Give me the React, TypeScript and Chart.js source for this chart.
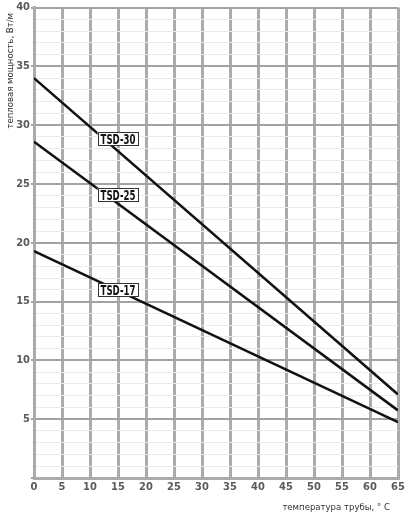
import React, { useEffect, useRef } from 'react';
import { Chart, registerables } from 'chart.js';

Chart.register(...registerables);

const temperatures = [0, 65];
const tsd30 = [34.0, 7.1];
const tsd25 = [28.6, 5.75];
const tsd17 = [19.3, 4.75];
const seriesNames = ['TSD-30', 'TSD-25', 'TSD-17'];
const labelAtX = 15;
const labelAtY = [28.8, 24.1, 16.0];
const yTitle = 'тепловая мощность, Вт/м';
const xTitle = 'температура трубы, ° С';

const COND = '"DejaVu Sans Condensed", "Liberation Sans Narrow", sans-serif';
const PAD = '\u00A0\u00A0\u00A0';

const toPoints = (ys: number[]) => temperatures.map((x, i) => ({ x, y: ys[i] }));

const labelPlugin = {
  id: 'seriesLabels',
  afterDatasetsDraw(chart: any) {
    const { ctx, scales } = chart;
    seriesNames.forEach((name, i) => {
      const px = Math.round(scales.x.getPixelForValue(labelAtX));
      const py = Math.round(scales.y.getPixelForValue(labelAtY[i]));
      const w = 41;
      const h = 14;
      ctx.save();
      ctx.fillStyle = '#ffffff';
      ctx.fillRect(px - w / 2, py - h / 2, w, h);
      ctx.strokeStyle = '#333333';
      ctx.lineWidth = 1;
      ctx.strokeRect(Math.round(px - w / 2) + 0.5, py - h / 2 + 0.5, w - 1, h - 1);
      ctx.font = `bold 13.5px ${COND}`;
      const tw = ctx.measureText(name).width;
      const target = 35;
      const sx = Math.min(1, target / tw);
      ctx.translate(px, py + 1);
      ctx.scale(sx, 1);
      ctx.fillStyle = '#111111';
      ctx.textAlign = 'center';
      ctx.textBaseline = 'middle';
      ctx.fillText(name, 0, 0);
      ctx.restore();
    });
  },
};

export default function App() {
  const ref = useRef<HTMLCanvasElement>(null);
  useEffect(() => {
    if (!ref.current) return;
    const mk = (label: string, ys: number[]) => ({
      label,
      data: toPoints(ys),
      borderColor: '#111111',
      borderWidth: 2.5,
      pointRadius: 0,
      fill: false,
    });
    const chart = new Chart(ref.current, {
      type: 'line',
      data: {
        datasets: [mk(seriesNames[0], tsd30), mk(seriesNames[1], tsd25), mk(seriesNames[2], tsd17)],
      },
      options: {
        animation: false,
        responsive: false,
        maintainAspectRatio: false,
        layout: { padding: { top: 6, right: 11, left: 0, bottom: 0 } },
        plugins: { legend: { display: false }, tooltip: { enabled: false } },
        scales: {
          x: {
            type: 'linear',
            min: 0,
            max: 65,
            ticks: {
              stepSize: 5,
              color: '#5a5a5a',
              font: { family: COND, size: 11, weight: 'bold' },
              padding: 3,
            },
            grid: { color: '#ababab', lineWidth: 3, tickLength: 0 },
            border: { color: '#ababab', width: 3 },
            title: {
              display: true,
              text: xTitle + PAD,
              align: 'end',
              color: '#333333',
              font: { family: COND, size: 9.5 },
              padding: { top: 4, bottom: 0 },
            },
            afterFit: (s: any) => { s.height = 35; },
          },
          y: {
            min: 0,
            max: 40,
            ticks: {
              stepSize: 1,
              autoSkip: false,
              color: '#5a5a5a',
              font: { family: COND, size: 11, weight: 'bold' },
              padding: 1,
              callback: (v: any) => (v % 5 === 0 && v !== 0 ? String(v) : ''),
            },
            grid: {
              color: (c: any) => (c.tick && c.tick.value % 5 === 0 ? '#a2a2a2' : '#ebebeb'),
              lineWidth: (c: any) => (c.tick && c.tick.value % 5 === 0 ? 2 : 1),
              tickLength: 3,
            },
            border: { color: '#ababab', width: 3 },
            title: {
              display: true,
              text: yTitle + '\u00A0\u00A0',
              align: 'end',
              color: '#333333',
              font: { family: COND, size: 9.5 },
              padding: { top: 5, bottom: 0 },
            },
            afterFit: (s: any) => { s.width = 34; },
          },
        },
      },
      plugins: [labelPlugin],
    });
    return () => chart.destroy();
  }, []);
  return (
    <div style={{ position: 'absolute', left: 0, top: 0, width: 409, height: 513, background: '#fff' }}>
      <canvas ref={ref} width={409} height={513} style={{ display: 'block' }} />
    </div>
  );
}
